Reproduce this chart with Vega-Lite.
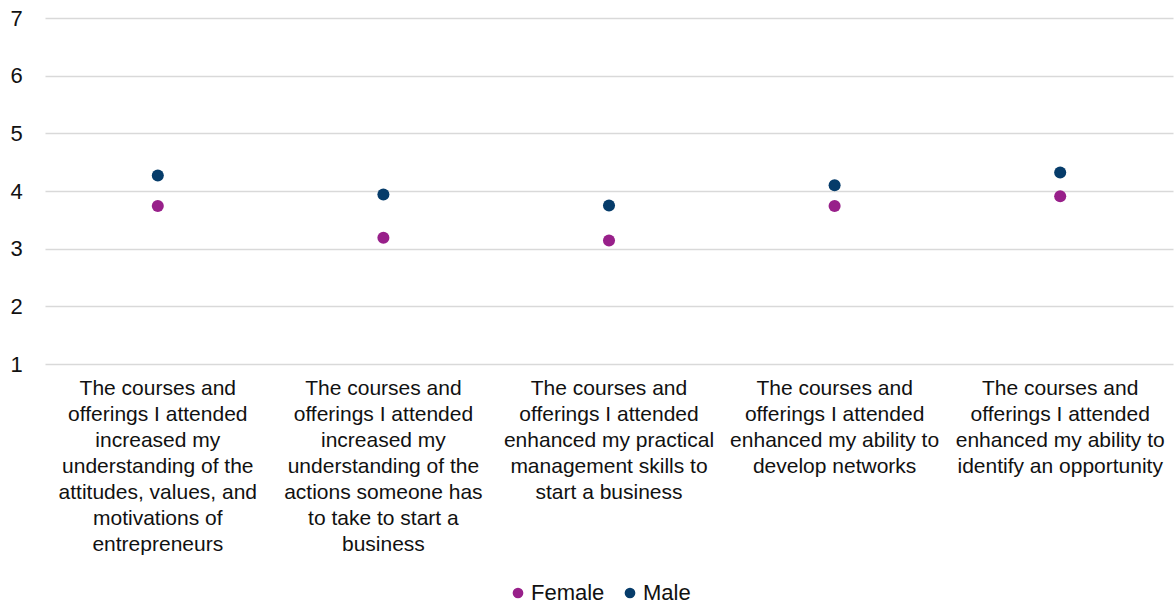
{
  "$schema": "https://vega.github.io/schema/vega-lite/v6.json",
  "width": 1128,
  "height": 346,
  "autosize": {"type": "none"},
  "padding": {"left": 45, "top": 18, "right": 3, "bottom": 242},
  "background": "white",
  "config": {
    "view": {"stroke": null},
    "font": "Liberation Sans"
  },
  "data": {
    "values": [
      {"q": "q1", "gender": "Female", "score": 3.74},
      {"q": "q1", "gender": "Male", "score": 4.27},
      {"q": "q2", "gender": "Female", "score": 3.19},
      {"q": "q2", "gender": "Male", "score": 3.94},
      {"q": "q3", "gender": "Female", "score": 3.14},
      {"q": "q3", "gender": "Male", "score": 3.75},
      {"q": "q4", "gender": "Female", "score": 3.74},
      {"q": "q4", "gender": "Male", "score": 4.10},
      {"q": "q5", "gender": "Female", "score": 3.91},
      {"q": "q5", "gender": "Male", "score": 4.32}
    ]
  },
  "mark": {"type": "point", "shape": "circle", "filled": true, "opacity": 1, "size": 145},
  "encoding": {
    "x": {
      "field": "q",
      "type": "nominal",
      "sort": ["q1", "q2", "q3", "q4", "q5"],
      "scale": {"type": "band", "paddingInner": 0, "paddingOuter": 0},
      "axis": {
        "title": null,
        "domain": false,
        "ticks": false,
        "grid": false,
        "labelAngle": 0,
        "labelFontSize": 21,
        "labelColor": "#111111",
        "labelLineHeight": 26,
        "labelBaseline": "top",
        "labelPadding": 13,
        "labelLimit": 0,
        "labelExpr": "datum.value == 'q1' ? ['The courses and','offerings I attended','increased my','understanding of the','attitudes, values, and','motivations of','entrepreneurs'] : datum.value == 'q2' ? ['The courses and','offerings I attended','increased my','understanding of the','actions someone has','to take to start a','business'] : datum.value == 'q3' ? ['The courses and','offerings I attended','enhanced my practical','management skills to','start a business'] : datum.value == 'q4' ? ['The courses and','offerings I attended','enhanced my ability to','develop networks'] : ['The courses and','offerings I attended','enhanced my ability to','identify an opportunity']"
      }
    },
    "y": {
      "field": "score",
      "type": "quantitative",
      "scale": {"domain": [1, 7], "nice": false, "zero": false},
      "axis": {
        "title": null,
        "domain": false,
        "ticks": false,
        "values": [1, 2, 3, 4, 5, 6, 7],
        "gridColor": "#D9D9D9",
        "gridWidth": 1.5,
        "labelFontSize": 22,
        "labelColor": "#111111",
        "labelAlign": "left",
        "labelPadding": 35,
        "labelBaseline": "middle"
      }
    },
    "color": {
      "field": "gender",
      "type": "nominal",
      "scale": {"domain": ["Female", "Male"], "range": ["#98208A", "#063C6A"]},
      "legend": {
        "title": null,
        "orient": "none",
        "direction": "horizontal",
        "legendX": 462,
        "legendY": 564,
        "symbolType": "circle",
        "symbolSize": 115,
        "symbolOpacity": 1,
        "labelFontSize": 22,
        "labelColor": "#111111",
        "labelOffset": 2,
        "columnPadding": 14
      }
    }
  }
}
